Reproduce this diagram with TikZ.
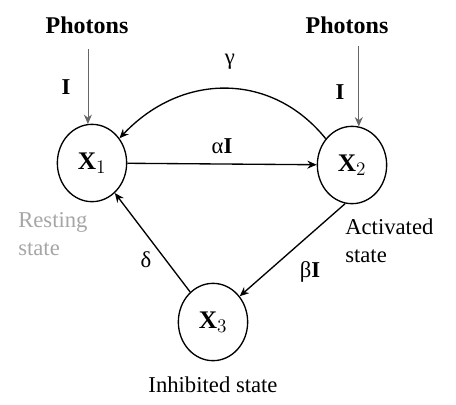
\documentclass[tikz,border=0pt]{standalone}
\usepackage{fontspec}
\setmainfont{Liberation Serif}
\usetikzlibrary{shapes.geometric,arrows.meta}
\begin{document}
\begin{tikzpicture}[x=0.75pt, y=-0.75pt, >={Stealth[length=7pt,width=6pt]},
  state/.style={draw, ellipse, line width=1pt, minimum width=52pt, minimum height=58pt,
    font=\fontsize{19}{21}\selectfont\bfseries},
  rate/.style={draw, line width=1pt, ->},
  photon/.style={draw, gray!80!black, line width=0.5pt, ->},
  lbl/.style={font=\fontsize{17}{19}\selectfont},
  rlbl/.style={font=\fontsize{17}{19}\selectfont\bfseries}]
\useasboundingbox (0,0) rectangle (456,404);

% States
\node[state] (X1) at (92,163) {X$_1$};
\node[state] (X2) at (352,165) {X$_2$};
\node[state] (X3) at (213,322) {X$_3$};

% Light input
\node[rlbl, font=\fontsize{18}{20}\selectfont\bfseries] (ph1) at (87,25) {Photons};
\node[rlbl, font=\fontsize{18}{20}\selectfont\bfseries] (ph2) at (347,25) {Photons};
\draw[photon] ([yshift=-8pt]ph1.south -| X1.96) -- (X1.96);
\draw[photon] ([yshift=-6pt]ph2.south -| X2.80) -- (X2.80);
\node[rlbl] (i1) at (66,87) {I};
\node[rlbl] (i2) at (340,92) {I};

% Transitions
\draw[rate] (X1) -- (X2) node[midway, above=4pt, rlbl] (a) {\mdseries α\bfseries I};
\draw[rate] (X2.135) .. controls (272,72) and (182,72) .. (X1.42);
\node[lbl] (g) at (230,62) {γ};
\draw[rate] (X2.-100) -- (X3.44);
\node[rlbl] (b) at (310,272) {\mdseries β\bfseries I};
\draw[rate] (X3) -- (X1);
\node[lbl] (d) at (146,260) {δ};

% State names
\node[lbl, gray!70, anchor=north west, align=left, inner sep=0pt] (rest) at (18,212) {Resting\\[2pt]state};
\node[lbl, anchor=north west, align=left, inner sep=0pt] (act) at (345,218) {Activated\\[2pt]state};
\node[lbl] (inh) at (213,385) {Inhibited state};
\end{tikzpicture}
\end{document}
